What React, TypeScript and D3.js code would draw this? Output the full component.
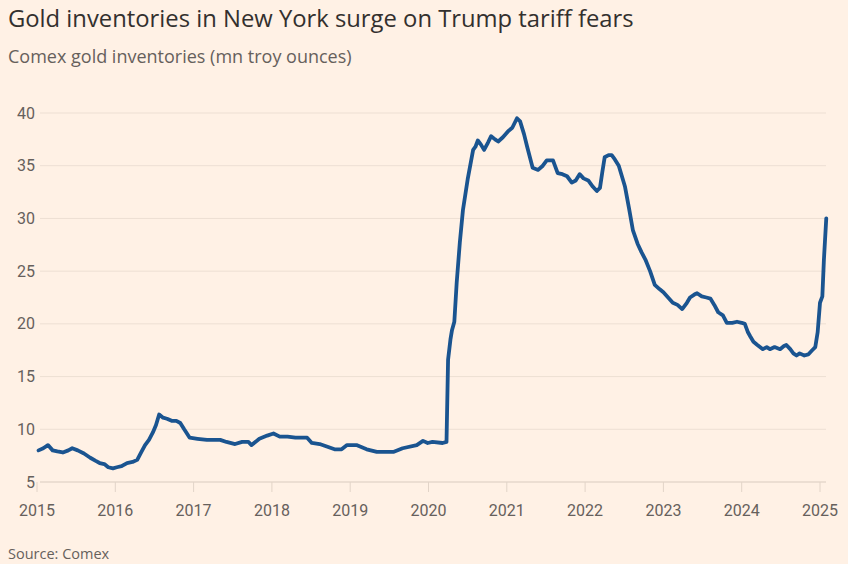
import React from "react";
import * as d3 from "d3";

const years: number[] = [
  2015.02, 2015.08, 2015.14, 2015.2, 2015.26, 2015.33, 2015.4, 2015.45, 2015.52, 2015.6,
  2015.68, 2015.75, 2015.8, 2015.86, 2015.91, 2015.97, 2016.02, 2016.08, 2016.15, 2016.22,
  2016.28, 2016.33, 2016.38, 2016.43, 2016.48, 2016.52, 2016.56, 2016.61, 2016.66, 2016.72,
  2016.78, 2016.83, 2016.88, 2016.95, 2017.05, 2017.17, 2017.25, 2017.34, 2017.42, 2017.53,
  2017.62, 2017.7, 2017.74, 2017.84, 2017.94, 2018.02, 2018.1, 2018.2, 2018.3, 2018.45,
  2018.51, 2018.61, 2018.8, 2018.89, 2018.96, 2019.08, 2019.21, 2019.34, 2019.55, 2019.67,
  2019.85, 2019.93, 2019.99, 2020.05, 2020.18, 2020.23, 2020.25, 2020.28, 2020.3, 2020.33,
  2020.36, 2020.4, 2020.44, 2020.5, 2020.57, 2020.6, 2020.63, 2020.67, 2020.71, 2020.76,
  2020.8, 2020.85, 2020.89, 2020.95, 2021.02, 2021.07, 2021.13, 2021.17, 2021.22, 2021.26,
  2021.33, 2021.4, 2021.46, 2021.51, 2021.59, 2021.65, 2021.71, 2021.77, 2021.83, 2021.88,
  2021.93, 2021.98, 2022.04, 2022.1, 2022.15, 2022.19, 2022.22, 2022.25, 2022.3, 2022.34,
  2022.38, 2022.43, 2022.51, 2022.56, 2022.61, 2022.67, 2022.72, 2022.77, 2022.83, 2022.89,
  2022.95, 2023.0, 2023.06, 2023.12, 2023.18, 2023.24, 2023.3, 2023.34, 2023.4, 2023.43,
  2023.49, 2023.55, 2023.6, 2023.65, 2023.7, 2023.76, 2023.81, 2023.88, 2023.94, 2024.0,
  2024.04, 2024.08, 2024.11, 2024.15, 2024.2, 2024.27, 2024.32, 2024.36, 2024.42, 2024.49,
  2024.54, 2024.57, 2024.62, 2024.66, 2024.7, 2024.74, 2024.8, 2024.85, 2024.9, 2024.94,
  2024.97, 2025.0, 2025.03, 2025.05, 2025.08,
];

const inventories: number[] = [
  8.0, 8.2, 8.5, 8.0, 7.9, 7.8, 8.0, 8.2, 8.0, 7.7,
  7.3, 7.0, 6.8, 6.7, 6.4, 6.3, 6.4, 6.5, 6.8, 6.9,
  7.1, 7.8, 8.5, 9.0, 9.7, 10.4, 11.4, 11.1, 11.0, 10.8,
  10.8, 10.6, 10.0, 9.2, 9.1, 9.0, 9.0, 9.0, 8.8, 8.6,
  8.8, 8.8, 8.5, 9.1, 9.4, 9.6, 9.3, 9.3, 9.2, 9.2,
  8.7, 8.6, 8.1, 8.1, 8.5, 8.5, 8.1, 7.85, 7.85, 8.2,
  8.5, 8.9, 8.7, 8.8, 8.7, 8.8, 16.6, 18.5, 19.4, 20.2,
  23.9, 27.7, 30.8, 33.7, 36.5, 36.8, 37.4, 37.0, 36.5, 37.2,
  37.8, 37.5, 37.3, 37.7, 38.3, 38.6, 39.5, 39.2, 38.0, 36.8,
  34.8, 34.6, 35.0, 35.5, 35.5, 34.3, 34.2, 34.0, 33.4, 33.6,
  34.2, 33.8, 33.6, 33.0, 32.6, 32.9, 34.4, 35.8, 36.0, 36.0,
  35.6, 35.0, 33.0, 31.0, 28.9, 27.6, 26.8, 26.1, 25.0, 23.7,
  23.3, 23.0, 22.5, 22.0, 21.8, 21.4, 22.0, 22.5, 22.8, 22.9,
  22.6, 22.5, 22.4, 21.8, 21.1, 20.8, 20.1, 20.1, 20.2, 20.1,
  20.0, 19.2, 18.8, 18.3, 18.0, 17.6, 17.8, 17.6, 17.8, 17.6,
  17.9, 18.0, 17.6, 17.2, 17.0, 17.2, 17.0, 17.1, 17.5, 17.8,
  19.2, 22.0, 22.6, 26.1, 30.0,
];

const yTicks: number[] = [5, 10, 15, 20, 25, 30, 35, 40];
const xTicks: number[] = [2015, 2016, 2017, 2018, 2019, 2020, 2021, 2022, 2023, 2024, 2025];

const title = "Gold inventories in New York surge on Trump tariff fears";
const subtitle = "Comex gold inventories (mn troy ounces)";
const source = "Source: Comex";

const W = 848;
const H = 564;
const BG = "#fff1e5";
const FONT = "Roboto, 'Open Sans', sans-serif";
const HEAD_FONT = "'Open Sans', Roboto, sans-serif";

export default function App() {
  const x = d3.scaleLinear().domain([2015, 2025]).range([37, 820]);
  const y = d3.scaleLinear().domain([5, 40]).range([482, 113]);
  const pts = years.map((yr, i) => [yr, inventories[i]] as [number, number]);
  const line = d3
    .line<[number, number]>()
    .x((d) => x(d[0]))
    .y((d) => y(d[1]))
    .curve(d3.curveLinear);

  return (
    <svg
      width={W}
      height={H}
      style={{ position: "absolute", left: 0, top: 0, background: BG }}
      fontFamily={FONT}
    >
      <rect x={0} y={0} width={W} height={H} fill={BG} />
      <text x={8} y={27} fontSize={23.8} fill="#33302e" fontFamily={HEAD_FONT}>
        {title}
      </text>
      <text x={8} y={63} fontSize={18} fill="#66605c" fontFamily={HEAD_FONT}>
        {subtitle}
      </text>
      {yTicks.map((t) => (
        <g key={t}>
          <line x1={40} x2={826} y1={y(t)} y2={y(t)} stroke="#eddfd3" strokeWidth={1} />
          <text x={35} y={y(t)} dy="0.35em" textAnchor="end" fontSize={16} fill="#66605c">
            {t}
          </text>
        </g>
      ))}
      <line x1={40} x2={826} y1={y(5)} y2={y(5)} stroke="#e2d4c8" strokeWidth={1} />
      {xTicks.map((t) => (
        <g key={t}>
          <line x1={x(t)} x2={x(t)} y1={y(5)} y2={y(5) + 10} stroke="#e2d4c8" strokeWidth={1} />
          <text x={x(t)} y={516} textAnchor="middle" fontSize={16} fill="#66605c">
            {t}
          </text>
        </g>
      ))}
      <path
        d={line(pts) || ""}
        fill="none"
        stroke="#1a5490"
        strokeWidth={3.8}
        strokeLinejoin="round"
        strokeLinecap="round"
      />
      <text x={8} y={559} fontSize={14.5} fill="#66605c" fontFamily={HEAD_FONT}>
        {source}
      </text>
    </svg>
  );
}
